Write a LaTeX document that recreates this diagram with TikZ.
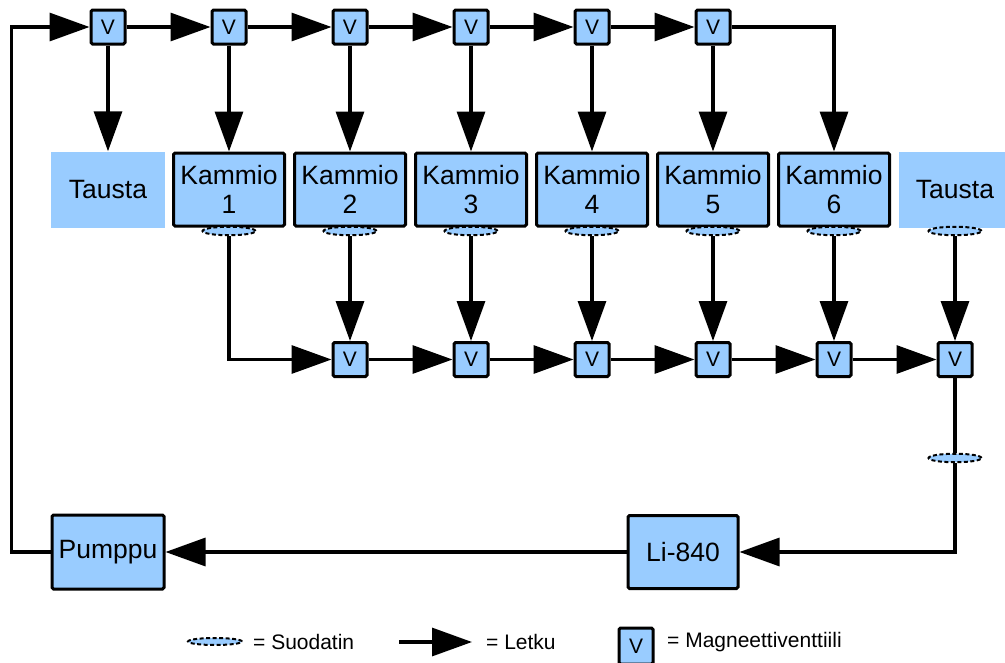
\documentclass[tikz,border=0pt]{standalone}
\usepackage{fontspec}
\setmainfont{Liberation Sans}
\usetikzlibrary{arrows.meta,shapes.geometric}
\definecolor{boxblue}{HTML}{99CCFF}
\tikzset{
  pipe/.style={line width=3.2pt, line join=miter},
  flow/.style={pipe, -{Triangle[length=40pt,width=28pt]}},
  valve/.style={draw, line width=3pt, fill=boxblue, rounded corners=1.5pt,
    minimum width=34pt, minimum height=34pt, inner sep=0pt,
    font=\fontsize{21}{24}\selectfont},
  chamber/.style={draw, line width=3pt, fill=boxblue, rounded corners=1.5pt,
    minimum width=111pt, minimum height=73pt, inner sep=0pt, align=center,
    font=\fontsize{26.5}{28.5}\selectfont},
  bgbox/.style={fill=boxblue, minimum width=114pt, minimum height=76pt,
    inner sep=0pt, font=\fontsize{26.5}{28.5}\selectfont},
  filter/.style={ellipse, draw, fill=boxblue, line width=2pt,
    dash pattern=on 4pt off 2.5pt, minimum width=53pt, minimum height=8.5pt,
    inner sep=0pt},
  legendtext/.style={anchor=west, inner sep=0pt, font=\fontsize{21}{24}\selectfont}
}
\begin{document}
\begin{tikzpicture}[x=1pt,y=-1pt]
\useasboundingbox (0,0) rectangle (1005,662);

% upper valve row
\foreach \i/\x in {1/108,2/229,3/350,4/471,5/592,6/713}
  \node[valve] (tv\i) at (\x,27) {V};

% chambers and background boxes
\node[bgbox] (tl) at (108,189.5) {Tausta};
\foreach \i/\x in {1/229,2/350,3/471,4/592,5/713,6/834}
  \node[chamber] (k\i) at (\x,189.5) {Kammio\\\i};
\node[bgbox, minimum width=106pt] (tr) at (952,189.5) {\hspace*{6pt}Tausta};

% filters under the chambers
\foreach \i/\x in {1/229,2/350,3/471,4/592,5/713,6/834}
  \node[filter] (f\i) at (\x,231) {};
\node[filter] (fr) at (955,231) {};

% lower valve row
\foreach \i/\x in {1/350,2/471,3/592,4/713,5/834,6/955}
  \node[valve] (bv\i) at (\x,359.5) {V};

% analyser line filter, pump and analyser
\node[filter] (fa) at (955,458) {};
\node[chamber, minimum width=112pt, minimum height=74pt] (pump) at (108,552) {Pumppu};
\node[chamber, minimum width=110pt, minimum height=73pt] (li) at (683,552) {Li-840};

% pump to first valve
\draw[flow] (pump.west) -- ++(-39,0) |- (tv1.west);

% upper distribution line
\foreach \a/\b in {1/2,2/3,3/4,4/5,5/6}
  \draw[flow] (tv\a.east) -- (tv\b.west);
\draw[flow] (tv1.south) -- (tl.north);
\foreach \i in {2,3,4,5}
  \draw[flow] (tv\i.south) -- (k\the\numexpr\i-1\relax.north);
\draw[flow] (tv6.south) -- (k5.north);
\draw[flow] (tv6.east) -| (k6.north);

% chamber outlets to lower valves
\draw[flow] (f1.south) |- (bv1.west);
\foreach \i/\j in {2/1,3/2,4/3,5/4,6/5}
  \draw[flow] (f\i.south) -- (bv\j.north);
\draw[flow] (fr.south) -- (bv6.north);

% lower collection line
\foreach \a/\b in {1/2,2/3,3/4,4/5,5/6}
  \draw[flow] (bv\a.east) -- (bv\b.west);

% to the analyser and back to the pump
\draw[pipe] (bv6.south) -- (fa.north);
\draw[flow] (fa.south) |- (li.east);
\draw[flow] (li.west) -- (pump.east);

% legend
\node[filter, minimum width=54pt, minimum height=7pt] (lf) at (215,641.5) {};
\node[legendtext] (lft) at (253,642) {= Suodatin};
\coordinate (la) at (399,642);
\coordinate (lb) at (472,642);
\draw[flow] (la) -- (lb);
\node[legendtext] (lat) at (486,642) {= Letku};
\node[valve, minimum height=36pt] (lv) at (636,646) {V};
\node[legendtext] (lvt) at (667,642) {= Magneettiventtiili};
\end{tikzpicture}
\end{document}
